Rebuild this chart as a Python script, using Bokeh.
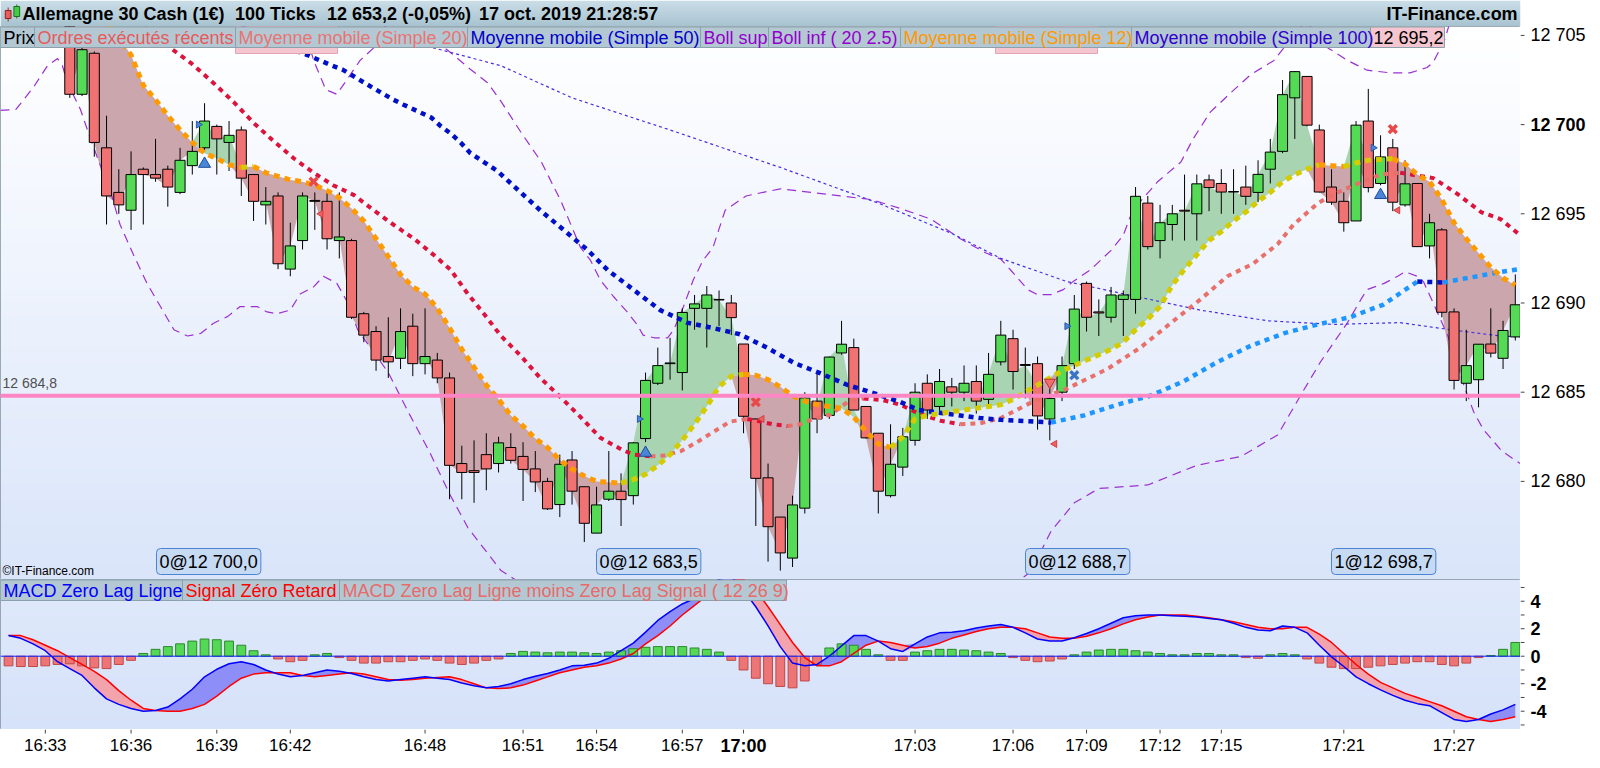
import numpy as np
from bokeh.plotting import figure
from bokeh.layouts import column, row
from bokeh.models import Label, Span, Range1d
from bokeh.core.properties import value
from bokeh.embed import file_html
from bokeh.resources import INLINE

FONT = "Liberation Sans"

# ---------------------------------------------------------------- data
candle_open = [
    12706.5, 12701.7, 12704.0, 12698.7, 12696.2, 12695.2, 12697.5, 12697.2, 12697.5, 12696.2,
    12697.7, 12698.7, 12699.9, 12699.0, 12699.7, 12697.2, 12695.5, 12696.0, 12691.9, 12693.5,
    12695.75, 12695.7, 12693.5, 12693.5, 12689.4, 12688.4, 12687.0, 12686.9, 12688.7, 12686.6,
    12686.8, 12685.8, 12681.0, 12680.6, 12681.5, 12681.0, 12681.9, 12681.4, 12680.7, 12680.0,
    12678.7, 12681.2, 12679.7, 12677.1, 12679.0, 12679.45, 12679.2, 12682.4, 12685.5, 12686.6,
    12686.1, 12689.7, 12689.7, 12690.2, 12690.0, 12687.7, 12683.5, 12680.2, 12678.0, 12675.7,
    12678.5, 12684.5, 12683.7, 12687.2, 12687.5, 12684.2, 12682.7, 12679.2, 12680.8, 12682.3,
    12685.5, 12684.2, 12685.3, 12685.0, 12685.6, 12684.6, 12686.7, 12688.0, 12686.55, 12686.6,
    12683.5, 12685.0, 12686.6, 12691.1, 12689.5, 12689.2, 12690.2, 12690.2, 12695.6, 12693.5,
    12694.4, 12695.2, 12695.0, 12696.9, 12696.7, 12696.25, 12696.5, 12696.2, 12697.5, 12698.5,
    12701.5, 12702.7, 12699.7, 12696.5, 12695.7, 12694.6, 12700.2, 12696.7, 12698.7, 12695.5,
    12696.7, 12693.2, 12694.1, 12689.5, 12685.5, 12685.7, 12687.7, 12686.9, 12688.1]
candle_high = [
    12707.0, 12704.6, 12704.1, 12700.5, 12697.5, 12698.5, 12697.6, 12699.2, 12697.7, 12698.7,
    12700.2, 12701.2, 12700.0, 12700.2, 12699.9, 12697.2, 12696.5, 12696.2, 12694.5, 12696.2,
    12696.2, 12696.2, 12696.2, 12693.6, 12689.5, 12688.7, 12689.2, 12689.7, 12689.4, 12689.7,
    12687.2, 12686.1, 12682.0, 12682.3, 12682.7, 12682.5, 12682.7, 12682.2, 12681.7, 12680.2,
    12681.5, 12681.7, 12679.7, 12679.7, 12681.7, 12680.45, 12682.2, 12686.1, 12687.5, 12688.05,
    12689.7, 12690.45, 12690.95, 12690.7, 12690.45, 12687.7, 12683.5, 12681.0, 12678.0, 12679.2,
    12685.0, 12686.1, 12687.0, 12689.0, 12688.0, 12684.2, 12682.7, 12683.2, 12683.0, 12685.5,
    12686.0, 12686.3, 12685.8, 12686.5, 12686.5, 12687.2, 12689.0, 12688.5, 12687.5, 12687.0,
    12685.2, 12687.0, 12690.45, 12691.2, 12690.2, 12690.9, 12690.7, 12696.5, 12696.0, 12695.5,
    12695.5, 12697.2, 12697.2, 12697.2, 12697.5, 12697.5, 12697.7, 12698.0, 12699.2, 12702.5,
    12703.0, 12702.7, 12700.0, 12697.5, 12696.2, 12700.2, 12702.0, 12699.4, 12699.2, 12698.0,
    12696.7, 12695.0, 12694.2, 12689.7, 12688.5, 12687.7, 12689.7, 12689.0, 12691.6]
candle_low = [
    12701.5, 12701.6, 12698.2, 12694.4, 12695.0, 12694.1, 12694.4, 12696.8, 12695.4, 12696.1,
    12697.2, 12698.5, 12697.2, 12697.4, 12696.0, 12694.6, 12694.4, 12691.9, 12691.5, 12693.0,
    12694.1, 12693.0, 12692.5, 12689.1, 12687.8, 12686.2, 12685.8, 12686.3, 12685.9, 12686.0,
    12685.5, 12679.0, 12679.0, 12678.8, 12679.5, 12680.5, 12681.0, 12678.9, 12679.4, 12678.4,
    12678.0, 12678.7, 12676.6, 12677.1, 12678.9, 12677.5, 12678.7, 12682.2, 12685.4, 12685.7,
    12685.1, 12688.5, 12687.5, 12688.7, 12688.2, 12682.7, 12677.5, 12675.5, 12675.0, 12675.2,
    12678.2, 12682.7, 12683.5, 12687.1, 12684.0, 12682.4, 12678.2, 12679.1, 12680.3, 12682.0,
    12683.5, 12683.8, 12684.2, 12684.5, 12683.8, 12684.3, 12686.5, 12685.15, 12684.65, 12682.9,
    12682.3, 12684.5, 12686.3, 12688.4, 12688.15, 12688.9, 12688.15, 12689.4, 12693.0, 12692.5,
    12693.5, 12693.5, 12693.5, 12695.15, 12695.0, 12695.0, 12695.5, 12695.65, 12696.7, 12698.4,
    12699.2, 12699.9, 12696.2, 12695.5, 12694.0, 12694.6, 12696.2, 12696.6, 12695.15, 12695.4,
    12693.16, 12692.5, 12689.2, 12685.15, 12684.5, 12684.15, 12686.95, 12686.3, 12687.9]
candle_close = [
    12701.7, 12704.2, 12699.0, 12696.0, 12695.5, 12697.2, 12697.2, 12697.0, 12696.5, 12698.0,
    12698.5, 12700.2, 12699.2, 12699.4, 12697.0, 12695.7, 12695.7, 12692.2, 12693.2, 12696.0,
    12695.7, 12693.6, 12693.7, 12689.2, 12688.2, 12686.8, 12686.7, 12688.4, 12686.6, 12687.0,
    12685.8, 12680.9, 12680.5, 12680.5, 12680.7, 12682.16, 12681.18, 12680.67, 12679.97, 12678.46,
    12680.96, 12679.45, 12677.65, 12678.68, 12679.45, 12678.98, 12682.16, 12685.66, 12686.49, 12686.64,
    12689.47, 12689.95, 12690.45, 12690.17, 12689.18, 12683.65, 12680.17, 12677.46, 12675.99, 12678.68,
    12684.68, 12683.5, 12686.97, 12687.69, 12684.0, 12682.44, 12679.45, 12680.96, 12682.5, 12685.0,
    12684.0, 12685.6, 12685.0, 12685.5, 12684.5, 12686.0, 12688.2, 12686.16, 12686.5, 12683.67,
    12684.65, 12686.49, 12689.66, 12689.2, 12689.44, 12690.45, 12690.45, 12695.98, 12693.16, 12694.5,
    12695.0, 12695.15, 12696.68, 12696.47, 12696.22, 12696.22, 12695.98, 12697.21, 12698.46, 12701.68,
    12702.97, 12699.97, 12696.22, 12695.65, 12694.5, 12699.97, 12696.47, 12698.19, 12695.65, 12696.68,
    12693.16, 12694.5, 12689.48, 12685.66, 12686.49, 12687.69, 12687.19, 12688.46, 12689.9]
candle_x = list(range(len(candle_open)))

# Moyenne mobile (Simple 12), one value per candle
ma12 = [
    12708.5, 12707.6, 12706.6, 12705.7, 12704.9, 12703.9, 12702.2, 12701.4, 12700.5, 12699.7,
    12699.0, 12698.4, 12698.1, 12697.75, 12697.6, 12697.65, 12697.3, 12697.1, 12696.9, 12696.8,
    12696.6, 12696.3, 12695.9, 12695.3, 12694.6, 12693.6, 12692.6, 12691.6, 12690.9, 12690.5,
    12689.7, 12688.6, 12687.4, 12686.4, 12685.4, 12684.6, 12683.7, 12683.1, 12682.4, 12681.9,
    12681.2, 12680.7, 12680.3, 12680.0, 12679.95, 12679.9, 12680.1, 12680.4, 12680.9, 12681.5,
    12682.3, 12683.2, 12684.2, 12685.3, 12685.9, 12686.0, 12685.95, 12685.7, 12685.3, 12684.8,
    12684.5, 12684.3, 12684.2, 12684.1, 12683.6, 12682.8, 12682.1, 12681.9, 12682.5, 12683.5,
    12683.7, 12683.8, 12683.9, 12684.0, 12684.1, 12684.2, 12684.3, 12684.6, 12685.0, 12685.4,
    12685.8, 12686.2, 12686.5, 12686.8, 12687.1, 12687.4, 12687.8, 12688.5, 12689.1, 12689.8,
    12691.0, 12691.9, 12692.7, 12693.5, 12694.0, 12694.6, 12695.1, 12695.7, 12696.2, 12696.8,
    12697.2, 12697.5, 12697.75, 12697.7, 12697.65, 12697.85, 12698.0, 12698.05, 12698.08, 12697.8,
    12697.2, 12696.8, 12695.8, 12694.5, 12693.6, 12692.8, 12692.0, 12691.4, 12691.0]

# Moyenne mobile (Simple 20)
ma20_x = [0, 2, 4, 6, 8.2, 9.9, 11.7, 13.4, 15.0, 16.6, 18.3, 19.9, 21.5, 23.2,
          24.8, 26.4, 28.1, 29.7, 31.1, 32.5, 33.8, 35.2, 36.8, 38.4,
          40.1, 41.7, 43.3, 45.0, 46.0, 47.4, 48.5, 49.9, 51.2, 52.6,
          53.9, 55.3, 56.4, 57.4, 58.6, 59.6, 60.7, 62.1, 63.5, 64.8,
          66.4, 67.8, 69.3, 71.1, 72.7, 74.3, 76.0, 78.7, 81.4, 84.7,
          87.4, 90.1, 92.3, 94.5, 96.6, 98.6, 99.9, 101.9, 103.2, 104.8,
          107.0, 108.6, 111.3, 113.3, 115.2, 116.8, 118.4]
ma20_y = [12708.6, 12707.7, 12706.8, 12705.8, 12704.3, 12703.45, 12702.35, 12701.25, 12700.1, 12699.1,
          12698.1, 12697.3, 12696.6, 12696.05,
          12695.2, 12694.4, 12693.6, 12692.7, 12691.85, 12690.5, 12689.4, 12688.15, 12687.05, 12685.8,
          12684.7, 12683.6, 12682.45, 12681.8, 12681.5, 12681.4, 12681.45, 12681.7, 12682.2, 12682.8,
          12683.35, 12683.5, 12683.35, 12683.2, 12683.1, 12683.2, 12683.5, 12683.75, 12684.45, 12684.65,
          12684.55, 12684.3, 12683.8, 12683.4, 12683.2, 12683.25, 12683.55, 12684.5, 12685.2, 12686.3,
          12687.5, 12689.0, 12690.2, 12691.5, 12692.2, 12693.3, 12694.4, 12695.6, 12696.1, 12696.6,
          12697.2, 12697.3, 12697.0, 12696.1, 12695.1, 12694.7, 12693.8]

# Moyenne mobile (Simple 50)
ma50_x = [10, 14, 17.5, 18.3, 19.4, 21.3, 22.3, 23.2, 24.3, 25.4,
          26.4, 27.2, 28.4, 29.5, 30.3, 31.1, 31.9, 32.7, 33.8, 34.9,
          38.4, 42.3, 43.9, 46.0, 48.2, 50.4, 52.5, 54.7, 56.9, 59.1,
          61.3, 63.5, 65.6, 67.8, 69.3, 74.3, 76.0, 78.7, 80.1, 82.8,
          85.5, 88.2, 90.9, 93.7, 96.4, 99.1, 101.9, 104.5, 107.2, 110.0,
          112.1, 114.1, 116.8, 118.4]
ma50_y = [12707.5, 12705.6, 12704.34, 12704.17, 12703.9, 12703.34, 12703.07, 12702.7, 12702.24, 12701.8,
          12701.4, 12701.13, 12700.75, 12700.4, 12699.9, 12699.5, 12699.0, 12698.4, 12697.9, 12697.4,
          12695.2, 12692.95, 12691.85, 12690.75, 12689.6, 12688.9, 12688.6, 12688.25, 12687.5, 12686.65,
          12686.05, 12685.4, 12684.95, 12684.45, 12684.0, 12683.55, 12683.45, 12683.35, 12683.3, 12683.7,
          12684.3, 12684.8, 12685.6, 12686.7, 12687.6, 12688.3, 12688.8, 12689.2, 12689.9, 12691.2,
          12691.15, 12691.4, 12691.74, 12691.9]

# Moyenne mobile (Simple 100)
ma100_x = [27, 29.7, 35.2, 41.0, 49.0, 58.0, 66.0, 72.0, 76.0, 81.4, 86.8, 92.3, 97.8, 103.2,
           108.6, 112.7, 116.8, 118.4]
ma100_y = [12705.2, 12704.3, 12703.3, 12701.5, 12699.7, 12697.6, 12695.6, 12693.9, 12692.5, 12691.2,
           12690.4, 12689.6, 12689.0, 12688.8, 12688.9, 12688.5, 12688.15, 12688.1]

# Boll sup / Boll inf (20 2.5)
boll_up_x = [19.0, 19.9, 20.9, 21.8, 22.7, 23.7, 24.8, 25.8, 28.5, 29.5,
             30.8, 32.7, 34.1, 35.2, 36.8, 38.5, 40.1, 41.7, 42.5, 43.3,
             44.4, 45.5, 46.3, 46.8, 47.7, 48.8, 49.3, 50.1, 50.9, 51.7,
             52.5, 53.5, 55.2, 58.0, 60.5, 62.9, 65.4, 67.8, 70.3, 72.7,
             74.8, 76.0, 76.8, 78.2, 79.0, 80.1, 81.1, 81.9, 83.3, 85.0,
             86.0, 86.6, 87.4, 88.8, 90.7, 91.7, 93.1, 94.8, 96.4, 98.3,
             99.1, 100.9, 102.7, 104.3, 105.9, 107.8, 109.4, 110.8, 111.3, 112.2,
             112.7]
boll_up_y = [12705.8, 12703.6, 12701.96, 12701.7, 12702.6, 12703.6, 12704.3, 12705.6, 12705.6, 12704.7,
             12704.2, 12703.1, 12702.35, 12701.3, 12699.6, 12697.9, 12695.7, 12693.1, 12692.4, 12691.3,
             12690.35, 12689.5, 12688.8, 12688.2, 12688.05, 12688.05, 12688.5, 12689.8, 12691.3, 12692.4,
             12693.1, 12695.2, 12696.0, 12696.4, 12696.2, 12696.0, 12695.8, 12695.3, 12694.7, 12693.6,
             12692.8, 12692.46, 12691.85, 12690.75, 12690.47, 12690.47, 12690.75, 12691.2, 12691.85, 12692.95,
             12693.8, 12694.9, 12695.7, 12696.8, 12697.9, 12699.2, 12700.7, 12701.8, 12702.8, 12703.6,
             12704.3, 12705.8, 12704.3, 12703.6, 12703.05, 12702.9, 12702.9, 12703.2, 12703.5, 12704.7,
             12705.8]
boll_low_x = [-5.66, -4.4, -2.96, -1.82, -1.0, -0.6, -0.2, 0.87, 1.69, 2.5,
              3.3, 4.1, 5.2, 6.3, 7.4, 8.5, 9.6, 10.7, 11.7, 12.9,
              13.9, 15.3, 16.1, 16.9, 18.0, 18.8, 19.9, 20.7, 21.8, 22.7,
              23.5, 26.0, 27.7, 29.4, 31.0, 32.5, 34.3, 35.2, 36.8, 40.1,
              43.3, 46.0, 48.0, 50.5, 52.0, 55.0, 62.0, 70.0, 74.0, 78.4,
              80.1, 82.0, 84.0, 88.0, 92.0, 95.6, 98.6, 100.5, 102.1, 103.2,
              104.3, 105.4, 105.9, 107.3, 108.4, 109.0, 110.0, 110.5, 111.3, 112.5,
              113.8, 114.6, 115.4, 116.9, 118.4]
boll_low_y = [12700.8, 12700.85, 12702.1, 12703.3, 12703.7, 12703.3, 12702.35, 12700.85, 12699.2, 12697.7,
              12696.3, 12694.4, 12692.7, 12691.1, 12689.8, 12688.5, 12688.15, 12688.3, 12688.85, 12689.25,
              12689.8, 12689.8, 12689.5, 12689.4, 12689.6, 12690.5, 12690.9, 12691.5, 12691.1, 12690.0,
              12688.5, 12686.1, 12683.8, 12681.6, 12679.3, 12677.4, 12675.8, 12675.0, 12674.3, 12673.6,
              12673.6, 12674.1, 12674.4, 12673.5, 12672.5, 12671.0, 12670.5, 12671.5, 12672.8, 12674.9,
              12677.2, 12678.8, 12679.6, 12679.8, 12680.9, 12681.4, 12682.6, 12684.85, 12686.7, 12687.8,
              12688.9, 12690.2, 12690.75, 12691.1, 12691.5, 12691.75, 12691.5, 12691.2, 12690.0, 12688.15,
              12685.4, 12683.9, 12682.9, 12681.7, 12681.0]

# MACD Zero Lag (12 26 9), one value per candle starting 5 candles before the first one
macd_x = list(range(-5, 119))
macd_line = [
    1.5, 1.3, 0.9, 0.4, -0.4, -0.9, -1.4, -2.3, -3.1, -3.5,
    -3.8, -4.0, -3.95, -3.7, -3.1, -2.4, -1.5, -0.95, -0.55, -0.4,
    -0.6, -1.0, -1.3, -1.5, -1.4, -1.2, -1.0, -1.1, -1.25, -1.5,
    -1.7, -1.8, -1.7, -1.6, -1.5, -1.6, -1.7, -1.95, -2.15, -2.3,
    -2.2, -2.0, -1.7, -1.45, -1.25, -1.0, -0.7, -0.65, -0.5, -0.15,
    0.4, 0.95, 1.75, 2.6, 3.25, 3.8, 4.2, 4.9, 5.6, 5.8,
    4.8, 3.6, 2.2, 0.7, -0.5, -0.7, -0.6, 0.0, 0.75, 1.5,
    1.5, 1.1, 0.55, 0.35, 0.9, 1.4, 1.7, 1.75, 1.85, 2.05,
    2.2, 2.3, 2.1, 1.7, 1.25, 1.1, 1.1, 1.35, 1.65, 2.0,
    2.4, 2.8, 2.95, 3.0, 3.0, 2.95, 2.9, 2.85, 2.75, 2.65,
    2.4, 2.1, 1.9, 1.85, 2.2, 2.1, 1.7, 0.8, -0.05, -0.75,
    -1.5, -2.0, -2.45, -2.85, -3.2, -3.45, -3.6, -4.1, -4.6, -4.75,
    -4.6, -4.2, -3.9, -3.5]
macd_signal = [
    1.5, 1.5, 1.2, 0.8, 0.4, -0.1, -0.6, -1.1, -1.7, -2.5,
    -3.2, -3.8, -3.95, -4.0, -4.0, -3.8, -3.5, -2.9, -2.2, -1.6,
    -1.3, -1.2, -1.2, -1.2, -1.4, -1.5, -1.4, -1.3, -1.2, -1.3,
    -1.5, -1.7, -1.75, -1.7, -1.6, -1.55, -1.5, -1.7, -2.0, -2.3,
    -2.35, -2.3, -2.1, -1.8, -1.5, -1.2, -1.0, -0.8, -0.7, -0.5,
    -0.2, 0.2, 0.9, 1.5, 2.2, 3.0, 3.7, 4.4, 5.0, 5.5,
    5.6, 4.8, 3.6, 2.3, 1.0, -0.1, -0.7, -0.7, -0.4, 0.2,
    0.8, 1.1, 1.0, 0.8, 0.6, 0.7, 0.95, 1.3, 1.55, 1.8,
    2.0, 2.1, 2.1, 2.0, 1.7, 1.4, 1.3, 1.3, 1.45, 1.7,
    2.0, 2.35, 2.65, 2.85, 3.0, 3.0, 3.0, 2.9, 2.8, 2.65,
    2.5, 2.3, 2.1, 2.0, 2.0, 2.1, 2.1, 1.6, 1.0, 0.2,
    -0.6, -1.3, -1.9, -2.3, -2.7, -3.0, -3.3, -3.6, -4.0, -4.4,
    -4.6, -4.75, -4.6, -4.4]
macd_hist = [
    -0.7, -0.75, -0.75, -0.7, -0.6, -0.55, -0.7, -0.85, -0.9, -0.6,
    -0.3, 0.2, 0.5, 0.7, 0.9, 1.1, 1.25, 1.2, 1.1, 0.8,
    0.4, 0.1, -0.2, -0.4, -0.3, 0.1, 0.2, -0.1, -0.3, -0.5,
    -0.5, -0.4, -0.4, -0.3, -0.2, -0.3, -0.5, -0.6, -0.5, -0.3,
    -0.2, 0.2, 0.35, 0.3, 0.25, 0.3, 0.3, 0.25, 0.2, 0.3,
    0.4, 0.55, 0.65, 0.7, 0.7, 0.7, 0.6, 0.5, 0.3, -0.3,
    -1.0, -1.6, -2.0, -2.2, -2.3, -1.8, -0.6, 0.6, 0.9, 0.8,
    0.5, 0.1, -0.3, -0.3, 0.3, 0.4, 0.5, 0.5, 0.45, 0.4,
    0.3, 0.2, -0.1, -0.3, -0.4, -0.35, -0.2, 0.1, 0.3, 0.45,
    0.5, 0.5, 0.4, 0.3, 0.2, 0.1, 0.1, 0.2, 0.2, 0.1,
    0.1, -0.1, -0.15, 0.1, 0.2, 0.1, -0.2, -0.5, -0.8, -0.9,
    -0.9, -0.8, -0.7, -0.6, -0.5, -0.4, -0.4, -0.6, -0.7, -0.5,
    -0.1, 0.05, 0.5, 1.0]

# axes
time_tick_idx = [-2, 5, 12, 18, 29, 37, 43, 50, 55, 69, 77, 83, 89, 94, 104, 113]
time_tick_lbl = ["16:33", "16:36", "16:39", "16:42", "16:48", "16:51", "16:54", "16:57", "17:00",
                 "17:03", "17:06", "17:09", "17:12", "17:15", "17:21", "17:27"]
bold_time = "17:00"
price_ticks = [12680, 12685, 12690, 12695, 12700, 12705]
price_tick_lbl = ["12 680", "12 685", "12 690", "12 695", "12 700", "12 705"]
bold_price = 12700
macd_ticks = [-4, -2, 0, 2, 4]
macd_tick_lbl = ["-4", "-2", "0", "2", "4"]
macd_minor = [-5, -3, -1, 1, 3, 5]

# signals / orders
price_line = 12684.8
price_line_lbl = "12 684,8"
order_lbl = ["0@12 700,0", "0@12 683,5", "0@12 688,7", "1@12 698,7"]
blue_up_x = [11, 47, 107]
blue_up_y = [12697.8, 12681.6, 12696.05]
red_cross_x = [19.9, 56, 108]
red_cross_y = [12696.8, 12684.45, 12699.75]
blue_cross_x = [82]
blue_cross_y = [12685.95]
red_down_x = [80]
red_down_y = [12685.55]
red_tri_x = [20.5, 56.5, 80.4, 108.4]
red_tri_y = [12695.0, 12683.5, 12682.1, 12695.2]
blue_tri_x = [10.5, 46.5, 81.4, 106.4]
blue_tri_y = [12700.0, 12683.5, 12688.7, 12698.7]

header_parts = ["Allemagne 30 Cash (1€)", "100 Ticks", "12 653,2 (-0,05%)", "17 oct. 2019 21:28:57"]
header_brand = "IT-Finance.com"
legend_main = ["Prix", "Ordres exécutés récents", "Moyenne mobile (Simple 20)", "Moyenne mobile (Simple 50)",
               "Boll sup", "Boll inf ( 20 2.5)", "Moyenne mobile (Simple 12)", "Moyenne mobile (Simple 100)",
               "12 695,2"]
legend_macd = ["MACD Zero Lag Ligne", "Signal Zéro Retard",
               "MACD Zero Lag Ligne moins Zero Lag Signal ( 12 26 9)"]

# ---------------------------------------------------------------- layout constants
W, FW, TK = 1588, 1520, 4          # total width, plot frame width, tick length
LW = W - FW                        # width of the right tick/label column
HH, MH, GH, XH = 26, 553, 150, 29
SP = 12.25
X0 = -69.3 / SP
X1 = X0 + FW / SP
Y0, Y1 = 12674.5, 12705.5
G0, G1 = -5.33, 5.58
AXIS_COL = "#7d929c"
TICK_COL = "#444444"

def mx(px):
    return X0 + px / FW * (X1 - X0)

def my(py):
    return Y1 - py / MH * (Y1 - Y0)

def gy(py):
    return G1 - py / GH * (G1 - G0)

def vgrad(top, bot, n=128):
    t = np.linspace(0.0, 1.0, n)
    img = np.empty((n, 1), dtype=np.uint32)
    v = img.view(dtype=np.uint8).reshape((n, 1, 4))
    for k in range(3):
        v[:, 0, k] = np.round(bot[k] + (top[k] - bot[k]) * t).astype(np.uint8)
    v[:, 0, 3] = 255
    return img

def draw_runs(fig, xs, ys, up_color, down_color, width, dash):
    xs = list(xs)
    ys = list(ys)
    start, cur = 0, None
    for i in range(1, len(xs)):
        rising = ys[i] >= ys[i - 1]
        if cur is None:
            cur = rising
        elif rising != cur:
            fig.line(xs[start:i], ys[start:i], line_color=up_color if cur else down_color,
                     line_width=width, line_dash=dash)
            start, cur = i - 1, rising
    fig.line(xs[start:], ys[start:], line_color=up_color if cur else down_color,
             line_width=width, line_dash=dash)

def bare_figure(width, height, xr, yr):
    f = figure(width=width, height=height, x_range=xr, y_range=yr,
               x_axis_location=None, y_axis_location=None, toolbar_location=None,
               output_backend="svg", min_border=0)
    f.grid.visible = False
    f.outline_line_color = None
    f.background_fill_color = "white"
    f.border_fill_color = "white"
    return f

def label_column(height, yr, ticks, labels, minor, bold_value=None, all_bold=False):
    f = bare_figure(LW, height, Range1d(0, LW), yr)
    f.segment(x0=[0] * len(ticks), y0=ticks, x1=[TK] * len(ticks), y1=ticks, line_color=TICK_COL)
    if minor:
        f.segment(x0=[0] * len(minor), y0=minor, x1=[TK] * len(minor), y1=minor, line_color=TICK_COL)
    norm = [(t, l) for t, l in zip(ticks, labels) if t != bold_value and not all_bold]
    bold = [(t, l) for t, l in zip(ticks, labels) if t == bold_value or all_bold]
    if norm:
        f.text(x=[10] * len(norm), y=[t for t, _ in norm], text=[l for _, l in norm],
               text_font=value(FONT), text_font_size="18px", text_color="black", text_baseline="middle")
    if bold:
        f.text(x=[10] * len(bold), y=[t for t, _ in bold], text=[l for _, l in bold],
               text_font=value(FONT), text_font_size="18px", text_font_style="bold",
               text_color="black", text_baseline="middle")
    return f

# ---------------------------------------------------------------- header
header = bare_figure(W, HH, Range1d(0, W), Range1d(0, HH))
header.image_rgba(image=[vgrad((203, 222, 232), (167, 195, 208))], x=0, y=0, dw=W, dh=HH, level="image")
header.segment(x0=[8, 17], y0=[5, 8], x1=[8, 17], y1=[19, 22], line_color=["#a03030", "#207020"])
header.quad(left=[5, 14], right=[11, 20], top=[16, 20], bottom=[8, 10],
            fill_color=["#e85c5c", "#44cc44"], line_color=["#902020", "#1e6e1e"])
header.text(x=[23, 245, 341, 500], y=[13] * 4, text=header_parts, text_font=value(FONT),
            text_font_size="18px", text_font_style="bold", text_baseline="middle", text_color="black")
header.text(x=[W - 3], y=[13], text=[header_brand], text_font=value(FONT), text_font_size="18px",
            text_font_style="bold", text_baseline="middle", text_align="right", text_color="black")

# ---------------------------------------------------------------- main price panel
main = bare_figure(FW, MH, Range1d(X0, X1), Range1d(Y0, Y1))
main.outline_line_color = AXIS_COL
main.image_rgba(image=[vgrad((255, 255, 255), (218, 229, 250))], x=X0, y=Y0, dw=X1 - X0, dh=Y1 - Y0,
                level="image")

cl = np.array(candle_close)
m12 = np.array(ma12)
main.varea(x=candle_x, y1=m12, y2=np.maximum(cl, m12), fill_color="#a8d4b2")
main.varea(x=candle_x, y1=np.minimum(cl, m12), y2=m12, fill_color="#cba7ad")

main.line(boll_up_x, boll_up_y, line_color="#9b30d0", line_width=1.2, line_dash="9 6")
main.line(boll_low_x, boll_low_y, line_color="#9b30d0", line_width=1.2, line_dash="9 6")
main.line(ma100_x, ma100_y, line_color="#4a2ee0", line_width=1.2, line_dash="3 3")

op = np.array(candle_open)
up = cl >= op
main.segment(x0=candle_x, y0=candle_low, x1=candle_x, y1=candle_high, line_color="black", line_width=1)
main.vbar(x=candle_x, top=np.maximum(op, cl), bottom=np.minimum(op, cl), width=0.82,
          fill_color=["#55da55" if u else "#f07272" for u in up], line_color="black", line_width=1)

draw_runs(main, ma20_x, ma20_y, "#e8706a", "#dc143c", 4, "5 5")
draw_runs(main, ma50_x, ma50_y, "#1e96ff", "#0010c8", 4.5, "5 5")
draw_runs(main, candle_x, ma12, "#d4cc00", "#ff9a00", 5, "6 5")

main.scatter(blue_up_x, blue_up_y, marker="triangle", size=12, fill_color="#4a86d8", line_color="#1d4c9a")
main.scatter(red_down_x, red_down_y, marker="inverted_triangle", size=11, fill_color="#f07070",
             line_color="#c03030")
main.scatter(red_cross_x, red_cross_y, marker="x", size=11, line_color="#e84848", line_width=3.5)
main.scatter(blue_cross_x, blue_cross_y, marker="x", size=11, line_color="#3d73c4", line_width=3.5)
main.scatter(red_tri_x, red_tri_y, marker="triangle", angle=np.pi / 2, size=7, fill_color="#f06060",
             line_color="#d04040")
main.scatter(blue_tri_x, blue_tri_y, marker="triangle", angle=-np.pi / 2, size=7, fill_color="#4a86d8",
             line_color="#2a5aa8")

main.add_layout(Span(location=price_line, dimension="width", line_color="#ff86c4", line_width=4))
main.text(x=[mx(2)], y=[price_line + 5 * (Y1 - Y0) / MH], text=[price_line_lbl], text_font=value(FONT),
          text_font_size="14px", text_color="#505050", text_baseline="bottom")
main.text(x=[mx(2)], y=[my(MH - 2)], text=["©IT-Finance.com"], text_font=value(FONT),
          text_font_size="12px", text_color="black", text_baseline="bottom")

# pink order tags hanging under the legend row
main.quad(left=[mx(235), mx(995)], right=[mx(337), mx(1097)], top=my(0), bottom=my(27),
          fill_color="#f6c6d0", line_color="#e3a4b3")

edges = [0, 34, 235, 467, 700, 768, 900, 1131, 1370, 1444]
leg_cols = ["#000000", "#e65a5a", "#e87474", "#0000cc", "#9400cc", "#9400cc", "#ff9900", "#3000cc", "#000000"]
leg_bg = ["#b4c8d3"] * 8 + ["#f6c6d0"]
main.quad(left=[mx(e) for e in edges[:-1]], right=[mx(e) for e in edges[1:]], top=my(0.5), bottom=my(21),
          fill_color=leg_bg, line_color="#8ba2ac")
main.text(x=[mx(e + 3) for e in edges[:-1]], y=my(11), text=legend_main, text_color=leg_cols,
          text_font=value(FONT), text_font_size="18px", text_baseline="middle")

for left_px, txt in zip([156, 596, 1025, 1331], order_lbl):
    main.add_layout(Label(x=mx(left_px), y=my(MH - 5), text=txt, text_font=FONT, text_font_size="18px",
                          text_color="black", text_baseline="bottom", background_fill_color="#c6daf3",
                          border_line_color="#4d83d4", border_radius=4, padding=3))

main_lbl = label_column(MH, main.y_range, price_ticks, price_tick_lbl, [], bold_value=bold_price)

# ---------------------------------------------------------------- MACD panel
macd = bare_figure(FW, GH, main.x_range, Range1d(G0, G1))
macd.outline_line_color = AXIS_COL
macd.image_rgba(image=[vgrad((224, 233, 251), (214, 226, 249))], x=X0, y=G0, dw=X1 - X0, dh=G1 - G0,
                level="image")

ml = np.array(macd_line)
sg = np.array(macd_signal)
macd.varea(x=macd_x, y1=sg, y2=np.maximum(ml, sg), fill_color="#8e8ef8")
macd.varea(x=macd_x, y1=np.minimum(ml, sg), y2=sg, fill_color="#f2a3ab")
hist = np.array(macd_hist)
pos = hist >= 0
macd.vbar(x=macd_x, top=hist, bottom=0, width=0.72,
          fill_color=["#55d855" if p else "#ee7575" for p in pos],
          line_color=["#2a8a2a" if p else "#c04848" for p in pos], line_width=1)
macd.add_layout(Span(location=0, dimension="width", line_color="#1020ff", line_width=1))
macd.line(macd_x, macd_signal, line_color="#ff0000", line_width=1.5)
macd.line(macd_x, macd_line, line_color="#0000ff", line_width=1.5)

medges = [0, 182, 339, 786]
macd.quad(left=[mx(e) for e in medges[:-1]], right=[mx(e) for e in medges[1:]], top=gy(0.5), bottom=gy(21),
          fill_color="#b4c8d3", line_color="#8ba2ac")
macd.text(x=[mx(e + 3) for e in medges[:-1]], y=gy(11), text=legend_macd,
          text_color=["#0000ff", "#ff0000", "#e86a6a"], text_font=value(FONT), text_font_size="18px",
          text_baseline="middle")

macd_lbl = label_column(GH, macd.y_range, macd_ticks, macd_tick_lbl, macd_minor, all_bold=True)

# ---------------------------------------------------------------- time axis row
xlab = figure(width=W, height=XH, x_range=main.x_range, y_range=Range1d(0, XH),
              x_axis_location=None, y_axis_location=None, toolbar_location=None,
              output_backend="svg", min_border_left=0, min_border_right=W - FW,
              min_border_top=0, min_border_bottom=0)
xlab.grid.visible = False
xlab.outline_line_color = None
xlab.background_fill_color = "white"
xlab.border_fill_color = "white"
xlab.segment(x0=time_tick_idx, y0=[XH] * len(time_tick_idx), x1=time_tick_idx,
             y1=[XH - TK] * len(time_tick_idx), line_color=TICK_COL)
tn = [(t, l) for t, l in zip(time_tick_idx, time_tick_lbl) if l != bold_time]
tb = [(t, l) for t, l in zip(time_tick_idx, time_tick_lbl) if l == bold_time]
xlab.text(x=[t for t, _ in tn], y=[XH - 6] * len(tn), text=[l for _, l in tn], text_font=value(FONT),
          text_font_size="17px", text_color="black", text_align="center", text_baseline="top")
xlab.text(x=[t for t, _ in tb], y=[XH - 6] * len(tb), text=[l for _, l in tb], text_font=value(FONT),
          text_font_size="18px", text_font_style="bold", text_color="black", text_align="center",
          text_baseline="top")

layout = column(header, row(main, main_lbl, spacing=0), row(macd, macd_lbl, spacing=0), xlab, spacing=0)
open("out.html", "w").write(file_html(layout, INLINE))
